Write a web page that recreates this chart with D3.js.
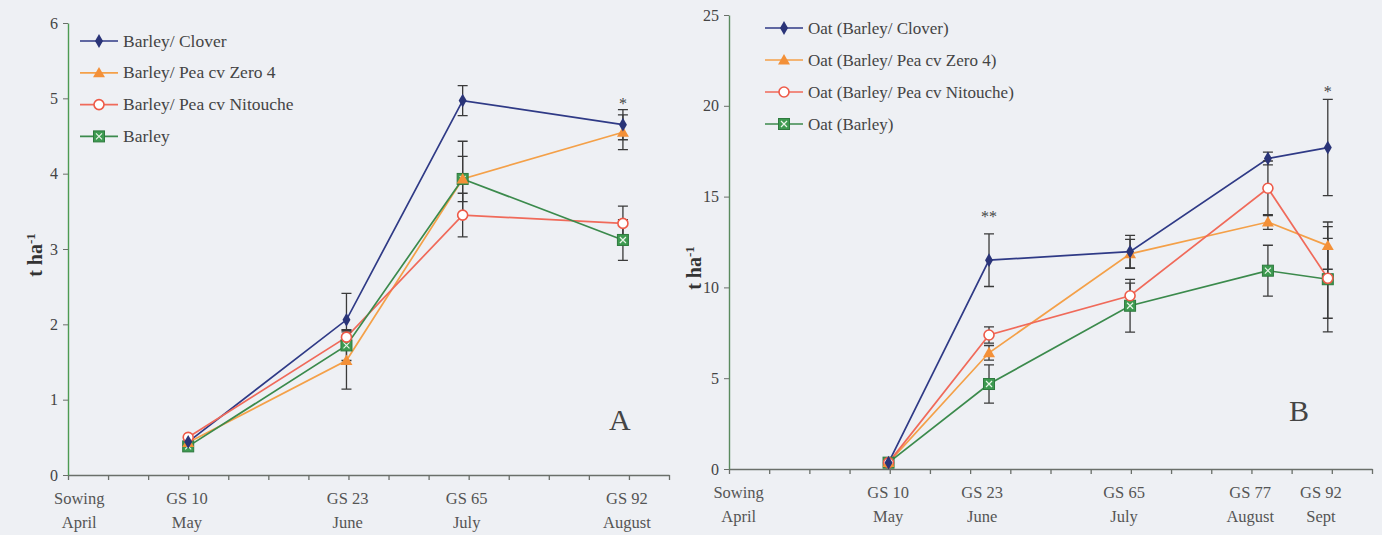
<!DOCTYPE html>
<html lang="en">
<head>
    <meta charset="UTF-8">
    <title>Biomass over growth stages</title>
    <script src="https://d3js.org/d3.v7.min.js"></script>
    <style>
        body { margin: 0; background: #eef0f4; }
        svg { display: block; font-family: "Liberation Serif", "Times New Roman", serif; }
    </style>
</head>
<body>
<svg width="1382" height="535"></svg>
<script>
// ---- panel A data (barley) ----
const namesA = ['Barley/ Clover', 'Barley/ Pea cv Zero 4', 'Barley/ Pea cv Nitouche', 'Barley'];
const stageXA = [3, 6.95, 9.85, 13.85];
const cloverA = [0.44, 2.06, 4.97, 4.65];
const zero4A = [0.43, 1.52, 3.93, 4.55];
const nitoucheA = [0.50, 1.83, 3.45, 3.34];
const barleyA = [0.38, 1.72, 3.93, 3.12];
const cloverErrA = [0, 0.35, 0.2, 0.2];
const zero4ErrA = [0, 0.38, 0.3, 0.23];
const nitoucheErrA = [0, 0.1, 0.29, 0.23];
const barleyErrA = [0, 0.2, 0.5, 0.27];
const labelsA = [['Sowing', 'April'], ['GS 10', 'May'], ['GS 23', 'June'], ['GS 65', 'July'], ['GS 92', 'August']];
const labelXA = [0.28, 2.97, 6.98, 9.95, 13.95];
const yTicksA = [0, 1, 2, 3, 4, 5, 6];

// ---- panel B data (oat) ----
const namesB = ['Oat (Barley/ Clover)', 'Oat (Barley/ Pea cv Zero 4)', 'Oat (Barley/ Pea cv Nitouche)', 'Oat (Barley)'];
const stageXB = [3.97, 6.47, 9.98, 13.41, 14.9];
const cloverB = [0.35, 11.5, 11.97, 17.1, 17.7];
const zero4B = [0.35, 6.4, 11.85, 13.6, 12.3];
const nitoucheB = [0.35, 7.38, 9.54, 15.46, 10.5];
const barleyB = [0.35, 4.68, 8.99, 10.92, 10.45];
const cloverErrB = [0, 1.45, 0.9, 0.35, 2.65];
const zero4ErrB = [0, 0.4, 0.8, 0.4, 1.3];
const nitoucheErrB = [0, 0.45, 0.7, 1.5, 2.2];
const barleyErrB = [0, 1.05, 1.45, 1.4, 2.9];
const labelsB = [['Sowing', 'April'], ['GS 10', 'May'], ['GS 23', 'June'], ['GS 65', 'July'], ['GS 77', 'August'], ['GS 92', 'Sept']];
const labelXB = [0.24, 3.96, 6.3, 9.83, 12.97, 14.73];
const yTicksB = [0, 5, 10, 15, 20, 25];

const colors = ['#2f3a86', '#f4a048', '#f06a5a', '#3b8a4c'];
const markerKinds = ['diamond', 'triangle', 'circle', 'square'];

const svg = d3.select('svg');

function drawMarker(g, kind, x, y) {
    if (kind === 'diamond') {
        g.append('path').attr('d', d3.symbol().type(d3.symbolDiamond).size(55)())
            .attr('transform', `translate(${x},${y})`).attr('fill', '#2a3478');
    } else if (kind === 'triangle') {
        g.append('path').attr('d', d3.symbol().type(d3.symbolTriangle).size(62)())
            .attr('transform', `translate(${x},${y + 1})`).attr('fill', '#f39038');
    } else if (kind === 'circle') {
        g.append('circle').attr('cx', x).attr('cy', y).attr('r', 5)
            .attr('fill', '#fff').attr('stroke', '#ee5a48').attr('stroke-width', 1.6);
    } else {
        g.append('rect').attr('x', x - 5.5).attr('y', y - 5.5).attr('width', 11).attr('height', 11)
            .attr('fill', '#3d9a50').attr('stroke', '#2e7a3e');
        g.append('path').attr('d', `M${x - 3},${y - 3}L${x + 3},${y + 3}M${x + 3},${y - 3}L${x - 3},${y + 3}`)
            .attr('stroke', '#e8f4e8').attr('stroke-width', 1.2);
    }
}

function drawPanel(p) {
    const x = d3.scaleLinear().domain([0, p.nTicks]).range(p.xRange);
    const y = d3.scaleLinear().domain(p.yDomain).range(p.yRange);
    const g = svg.append('g');

    // axes
    const xAxis = g.append('g').attr('transform', `translate(0,${p.yRange[0]})`)
        .call(d3.axisBottom(x).tickValues(d3.range(0, p.nTicks + 1)).tickSize(5).tickSizeOuter(0).tickFormat(''));
    xAxis.selectAll('path, line').attr('stroke', '#6a6f6a').attr('stroke-width', 1.3);

    const yAxis = g.append('g').attr('transform', `translate(${p.xRange[0]},0)`)
        .call(d3.axisLeft(y).tickValues(p.yTicks).tickFormat(d3.format('d'))
            .tickSize(5).tickSizeOuter(0).tickPadding(5));
    yAxis.select('path').attr('stroke', p.yAxisColor).attr('stroke-width', 1.4);
    yAxis.selectAll('line').attr('stroke', '#6a6f6a');
    yAxis.selectAll('text').attr('font-size', 16).attr('fill', '#444').attr('font-family', 'Liberation Serif');

    // x category labels
    p.labels.forEach((lab, i) => {
        const t = g.append('text').attr('x', x(p.labelX[i])).attr('text-anchor', 'middle')
            .attr('font-size', 16.5).attr('fill', '#555');
        t.append('tspan').attr('x', x(p.labelX[i])).attr('y', p.yRange[0] + 29).text(lab[0]);
        t.append('tspan').attr('x', x(p.labelX[i])).attr('y', p.yRange[0] + 53).text(lab[1]);
    });

    // y title
    const title = g.append('text').attr('transform', `translate(${p.titleX},${p.titleY}) rotate(-90)`)
        .attr('text-anchor', 'middle').attr('font-size', 20).attr('font-weight', 'bold').attr('fill', '#333');
    title.append('tspan').text('t ha');
    title.append('tspan').attr('baseline-shift', 'super').attr('font-size', 13).text('-1');

    // lines
    const line = d3.line().x(d => x(d[0])).y(d => y(d[1]));
    p.series.forEach((vals, s) => {
        g.append('path').datum(vals.map((v, i) => [p.stageX[i], v]))
            .attr('d', line).attr('fill', 'none').attr('stroke', colors[s]).attr('stroke-width', 1.7);
    });

    // error bars
    p.series.forEach((vals, s) => {
        vals.forEach((v, i) => {
            const e = p.errors[s][i];
            if (!e) return;
            const cx = x(p.stageX[i]);
            const y1 = y(v + e), y2 = y(v - e);
            g.append('path').attr('d', `M${cx},${y1}V${y2}M${cx - 5},${y1}H${cx + 5}M${cx - 5},${y2}H${cx + 5}`)
                .attr('stroke', '#3a3a3a').attr('stroke-width', 1.3).attr('fill', 'none');
        });
    });

    // markers (drawn bottom to top as in the original)
    for (let s = p.series.length - 1; s >= 0; s--) {
        p.series[s].forEach((v, i) => drawMarker(g, markerKinds[s], x(p.stageX[i]), y(v)));
    }

    // significance marks
    p.stars.forEach(st => {
        g.append('text').attr('x', x(p.stageX[st.i])).attr('y', y(st.v)).attr('text-anchor', 'middle')
            .attr('font-size', 16).attr('fill', '#444').text(st.t);
    });

    // panel letter
    g.append('text').attr('x', p.letterX).attr('y', p.letterY).attr('font-size', 30)
        .attr('fill', '#444').text(p.letter);

    // legend
    p.names.forEach((name, s) => {
        const ly = p.legendY + s * p.legendStep;
        g.append('line').attr('x1', p.legendX).attr('x2', p.legendX + 38).attr('y1', ly).attr('y2', ly)
            .attr('stroke', colors[s]).attr('stroke-width', 1.7);
        drawMarker(g, markerKinds[s], p.legendX + 19, ly);
        g.append('text').attr('x', p.legendX + 43).attr('y', ly + 5.5).attr('font-size', p.legendFont)
            .attr('fill', '#444').text(name);
    });
}

drawPanel({
    nTicks: 15, xRange: [68, 669], yDomain: [0, 6], yRange: [475, 23], yTicks: yTicksA,
    yAxisColor: '#4c9a52', stageX: stageXA,
    series: [cloverA, zero4A, nitoucheA, barleyA],
    errors: [cloverErrA, zero4ErrA, nitoucheErrA, barleyErrA],
    labels: labelsA, labelX: labelXA, names: namesA,
    titleX: 42, titleY: 255, letter: 'A', letterX: 609, letterY: 430,
    legendX: 80, legendY: 41, legendStep: 31.8, legendFont: 17.5,
    stars: [{ i: 3, v: 4.86, t: '*' }]
});

drawPanel({
    nTicks: 16, xRange: [729, 1372], yDomain: [0, 25], yRange: [469, 15], yTicks: yTicksB,
    yAxisColor: '#5a8a5e', stageX: stageXB,
    series: [cloverB, zero4B, nitoucheB, barleyB],
    errors: [cloverErrB, zero4ErrB, nitoucheErrB, barleyErrB],
    labels: labelsB, labelX: labelXB, names: namesB,
    titleX: 701, titleY: 268, letter: 'B', letterX: 1289, letterY: 421,
    legendX: 765, legendY: 28, legendStep: 32, legendFont: 17,
    stars: [{ i: 1, v: 13.6, t: '**' }, { i: 4, v: 20.5, t: '*' }]
});
</script>
</body>
</html>
